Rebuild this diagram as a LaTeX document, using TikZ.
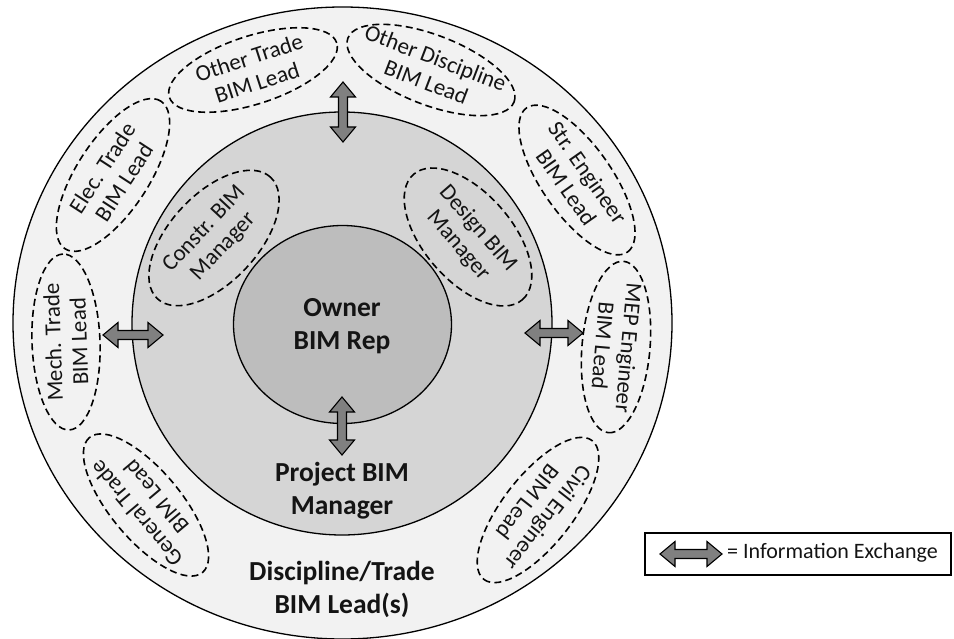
\documentclass[tikz,border=0pt]{standalone}
\usepackage{fontspec}
\setmainfont{Carlito}
\usetikzlibrary{shapes.geometric}

\definecolor{ringouter}{HTML}{F2F2F2}
\definecolor{ringmiddle}{HTML}{D5D5D5}
\definecolor{ringinner}{HTML}{BDBDBD}
\definecolor{arrowgray}{HTML}{808080}
\definecolor{inktext}{HTML}{141414}

\tikzset{
  ringshape/.style={ellipse, draw=black, line width=1.3pt, inner sep=0pt},
  rolebox/.style={ellipse, draw=black, dashed, dash pattern=on 7pt off 4.2pt,
    line width=1.6pt, inner sep=0pt},
  roletext/.style={align=center, text=inktext, inner sep=0pt,
    font=\fontsize{23}{26}\selectfont},
  leveltext/.style={align=center, text=inktext, inner sep=0pt,
    font=\fontsize{27.5}{33}\selectfont\bfseries},
  pics/infoarrow/.style={code={
    \draw[line width=1.1pt, fill=arrowgray, line join=miter]
      (-#1,0) -- ({-#1+15},-12.5) -- ({-#1+15},-4.5) -- ({#1-15},-4.5)
      -- ({#1-15},-12.5) -- (#1,0) -- ({#1-15},12.5) -- ({#1-15},4.5)
      -- ({-#1+15},4.5) -- ({-#1+15},12.5) -- cycle;
  }}
}

\begin{document}
\begin{tikzpicture}[x=1pt,y=-1pt]
\clip (0,0) rectangle (954,639);
\fill[white] (0,0) rectangle (954,639);

% three nested levels
\node[ringshape, fill=ringouter, minimum width=659, minimum height=632] (outer) at (342.5,323) {};
\node[ringshape, fill=ringmiddle, minimum width=420, minimum height=423] (middle) at (342,323.5) {};
\node[ringshape, fill=ringinner, minimum width=218, minimum height=198] (inner) at (342.5,324.5) {};

% level titles
\node[leveltext] (owner) at (342,326) {Owner\\BIM Rep};
\node[leveltext] (pm) at (342,491) {Project BIM\\Manager};
\node[leveltext] (leads) at (342,589) {Discipline/Trade\\BIM Lead(s)};

% managers in the middle ring
\node[rolebox, rotate=47, minimum width=166, minimum height=88] (constr) at (214,238) {};
\node[roletext, rotate=47] (constrt) at (constr.center) {Constr. BIM\\Manager};
\node[rolebox, rotate=-49, minimum width=166, minimum height=88] (design) at (468,237) {};
\node[roletext, rotate=-49] (designt) at (design.center) {Design BIM\\Manager};

% discipline and trade leads in the outer ring
\node[rolebox, rotate=18, minimum width=176, minimum height=68] (othtrade) at (253,70) {};
\node[roletext, rotate=18] (othtradet) at (othtrade.center) {Other Trade\\BIM Lead};
\node[rolebox, rotate=-21, minimum width=178, minimum height=70] (othdisc) at (431,70) {};
\node[roletext, rotate=-21] (othdisct) at (othdisc.center) {Other Discipline\\BIM Lead};
\node[rolebox, rotate=-55, minimum width=176, minimum height=70] (str) at (577,180) {};
\node[roletext, rotate=-55] (strt) at (str.center) {Str. Engineer\\BIM Lead};
\node[rolebox, rotate=-95, minimum width=172, minimum height=68] (mep) at (616,347) {};
\node[roletext, rotate=-95] (mept) at (mep.center) {MEP Engineer\\BIM Lead};
\node[rolebox, rotate=-128, minimum width=176, minimum height=70] (civil) at (538,510) {};
\node[roletext, rotate=-128] (civilt) at (civil.center) {Civil Engineer\\BIM Lead};
\node[rolebox, rotate=130, minimum width=176, minimum height=70] (general) at (146,505) {};
\node[roletext, rotate=130] (generalt) at (general.center) {General Trade\\BIM Lead};
\node[rolebox, rotate=92, minimum width=176, minimum height=68] (mech) at (66,342) {};
\node[roletext, rotate=92] (mecht) at (mech.center) {Mech. Trade\\BIM Lead};
\node[rolebox, rotate=57, minimum width=176, minimum height=72] (elec) at (113,175) {};
\node[roletext, rotate=57] (elect) at (elec.center) {Elec. Trade\\BIM Lead};

% information exchange between the levels
\pic[rotate=90] (xtop) at (343,112) {infoarrow=30};
\pic (xleft) at (133,335) {infoarrow=30};
\pic (xright) at (554,333) {infoarrow=29};
\pic[rotate=90] (xbottom) at (342,426) {infoarrow=29};

% legend
\node[draw=black, line width=1.1pt, minimum width=306, minimum height=42, inner sep=0pt] (legend) at (798,554) {};
\pic (xlegend) at (691,554) {infoarrow=31};
\node[anchor=west, text=inktext, inner sep=0pt, font=\fontsize{22}{26}\selectfont] (legendt) at (727,553) {= Information Exchange};
\end{tikzpicture}
\end{document}
